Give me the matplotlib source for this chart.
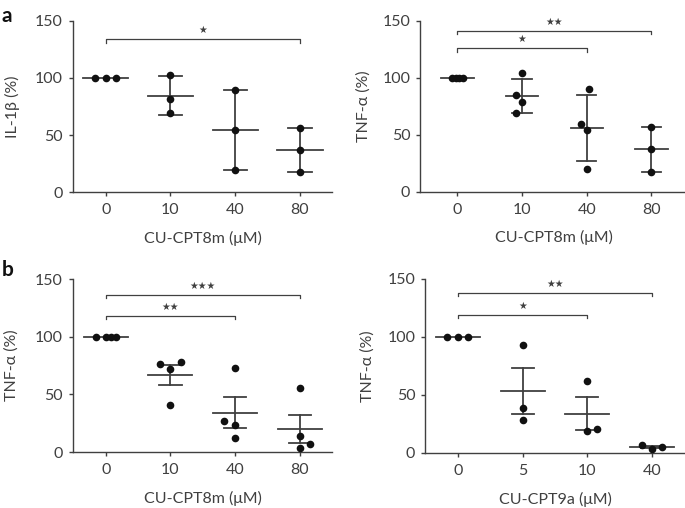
import numpy as np
import matplotlib.pyplot as plt

plt.rcParams['font.family'] = ['Lato', 'DejaVu Sans']
plt.rcParams['font.size'] = 11.5

ink = '#404040'

# panel a, left: IL-1beta, CU-CPT8m (mean +- SD)
a1_doses = ['0', '10', '40', '80']
a1_values = [[100, 100, 100], [102.5, 81.3, 69.0], [89.4, 54.5, 19.2], [56.5, 37.2, 17.5]]
a1_jitter = [[-0.16, 0, 0.155], [0, 0, 0], [0, 0, 0], [0, 0, 0]]
a1_sig = [(0, 3, 133.7, '★')]

# panel a, right: TNF-alpha, CU-CPT8m (mean +- SD)
a2_doses = ['0', '10', '40', '80']
a2_values = [[100, 100, 100, 100], [104.1, 84.8, 78.4, 68.8], [90.0, 59.1, 54.1, 19.6], [57.0, 37.5, 17.5]]
a2_jitter = [[-0.09, -0.03, 0.03, 0.09], [0, -0.09, 0, -0.09], [0.04, -0.09, 0, 0], [0, 0, 0]]
a2_sig = [(0, 3, 141.0, '★★'), (0, 2, 125.8, '★')]

# panel b, left: TNF-alpha, CU-CPT8m (mean +- SEM)
b1_doses = ['0', '10', '40', '80']
b1_values = [[100, 100, 100, 100], [76.7, 72.1, 78.2, 41.1], [26.9, 73.3, 23.7, 12.4], [55.3, 14.2, 3.5, 7.2]]
b1_jitter = [[-0.155, 0, 0.08, 0.16], [-0.155, 0, 0.165, 0], [-0.17, 0, 0, 0], [0, 0, 0, 0.16]]
b1_sig = [(0, 3, 136.6, '★★★'), (0, 2, 118.4, '★★')]

# panel b, right: TNF-alpha, CU-CPT9a (mean +- SEM)
b2_doses = ['0', '5', '10', '40']
b2_values = [[100, 100, 100], [93.3, 38.3, 28.5], [61.7, 19.0, 20.7], [6.6, 3.2, 5.2]]
b2_jitter = [[-0.165, 0, 0.16], [0, 0, 0], [0, 0, 0.155], [-0.16, 0, 0.155]]
b2_sig = [(0, 3, 137.9, '★★'), (0, 2, 119.2, '★')]


def draw(ax, doses, values, jitter, sig, err, ylabel, xlabel, xlim, mean_w, cap_w, ylab_x, xlab_y):
    for i, (vals, jit) in enumerate(zip(values, jitter)):
        v = np.array(vals, dtype=float)
        m = v.mean()
        e = v.std(ddof=1)
        if err == 'sem':
            e = e / np.sqrt(len(v))
        ax.plot([i - mean_w, i + mean_w], [m, m], color=ink, lw=1.3, zorder=2)
        if e > 0:
            ax.plot([i, i], [m - e, m + e], color=ink, lw=1.3, zorder=2)
            for y in (m - e, m + e):
                ax.plot([i - cap_w, i + cap_w], [y, y], color=ink, lw=1.3, zorder=2)
        ax.plot(i + np.array(jit), v, 'o', color='#111111', ms=5.5, mec='none', zorder=3, clip_on=False)

    for x0, x1, y, stars in sig:
        ax.plot([x0, x0, x1, x1], [y - 2.8, y, y, y - 2.8], color=ink, lw=0.9, clip_on=False)
        ax.annotate(stars, ((x0 + x1) / 2, y), xytext=(0, 6.5), textcoords='offset points',
                    ha='center', va='center', fontsize=7, color=ink,
                    family=['DejaVu Sans'], weight='normal')

    ax.set_xlim(*xlim)
    ax.set_ylim(0, 150)
    ax.set_yticks([0, 50, 100, 150])
    ax.set_xticks(range(len(doses)))
    ax.set_xticklabels(doses)
    for s in ('top', 'right'):
        ax.spines[s].set_visible(False)
    for s in ('left', 'bottom'):
        ax.spines[s].set_color(ink)
        ax.spines[s].set_linewidth(1.0)
    ax.tick_params(direction='out', length=3, width=1.0, color=ink, labelcolor=ink, labelsize=11.5, pad=4)
    ax.tick_params(axis='x', pad=5)
    ax.set_ylabel(ylabel, color=ink)
    ax.set_xlabel(xlabel, color=ink)
    ax.yaxis.set_label_coords(ylab_x, 0.5)
    ax.xaxis.set_label_coords((1.5 - xlim[0]) / (xlim[1] - xlim[0]), xlab_y)


fig = plt.figure(figsize=(6.85, 5.08), dpi=100)
ax1 = fig.add_axes([0.1061, 0.6215, 0.378, 0.3378])
ax2 = fig.add_axes([0.6131, 0.6226, 0.3869, 0.3366])
ax3 = fig.add_axes([0.1061, 0.1102, 0.378, 0.3400])
ax4 = fig.add_axes([0.6204, 0.1089, 0.3796, 0.3419])

draw(ax1, a1_doses, a1_values, a1_jitter, a1_sig, 'sd', 'IL-1β (%)', 'CU-CPT8m (μM)',
     (-0.51, 3.49), 0.35, 0.18, -0.205, -0.225)
draw(ax2, a2_doses, a2_values, a2_jitter, a2_sig, 'sd', 'TNF-α (%)', 'CU-CPT8m (μM)',
     (-0.58, 3.52), 0.25, 0.15, -0.185, -0.225)
draw(ax3, b1_doses, b1_values, b1_jitter, b1_sig, 'sem', 'TNF-α (%)', 'CU-CPT8m (μM)',
     (-0.51, 3.49), 0.34, 0.175, -0.208, -0.225)
draw(ax4, b2_doses, b2_values, b2_jitter, b2_sig, 'sem', 'TNF-α (%)', 'CU-CPT9a (μM)',
     (-0.51, 3.51), 0.34, 0.17, -0.192, -0.225)

fig.text(0.002, 0.988, 'a', weight='bold', fontsize=15, va='top', ha='left', color='#111111')
fig.text(0.002, 0.489, 'b', weight='bold', fontsize=15, va='top', ha='left', color='#111111')

fig.savefig('out.png', dpi=100)
